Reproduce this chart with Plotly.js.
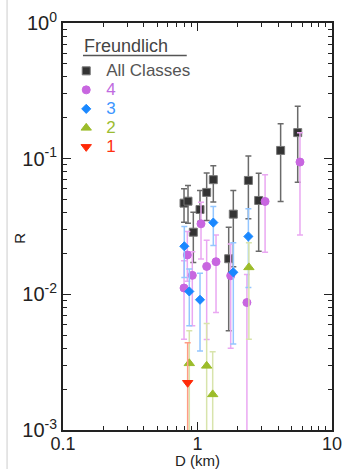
<!DOCTYPE html>
<html>
<head>
<meta charset="utf-8">
<script src="https://cdn.plot.ly/plotly-3.0.1.min.js"></script>
<style>html,body{margin:0;padding:0;background:#fff;}#chart{width:346px;height:469px;}</style>
</head>
<body>
<div id="chart"></div>
<script>
// ---- data ----
var allX  = [0.794, 0.850, 0.931, 1.044, 1.17, 1.311, 1.706, 1.846, 2.39, 2.85, 4.15, 5.56];
var allY  = [0.047, 0.0486, 0.0287, 0.0422, 0.0564, 0.070, 0.0183, 0.039, 0.0691, 0.0492, 0.115, 0.1556];
var allLo = [0.034, 0.0334, 0.0172, 0.0344, 0.035, 0.048, 0.0054, 0.016, 0.036, 0.0208, 0.0484, 0.0671];
var allHi = [0.060, 0.0635, 0.0403, 0.0583, 0.0783, 0.0888, 0.0312, 0.0583, 0.1045, 0.078, 0.181, 0.2436];

var c4X  = [0.794, 0.840, 0.915, 1.062, 1.17, 1.373, 1.765, 2.33, 3.18, 5.78];
var c4Y  = [0.01113, 0.0195, 0.0138, 0.0331, 0.01607, 0.0174, 0.01372, 0.0087, 0.0484, 0.0944];
var c4Lo = [0.00467, 0.0125, 0.00586, 0.0182, 0.00465, 0.00735, 0.0040, 0.0005, 0.0204, 0.0274];
var c4Hi = [0.0177, 0.029, 0.0206, 0.0478, 0.025, 0.0274, 0.0235, 0.014, 0.0762, 0.155];

var c3X  = [0.798, 0.869, 1.044, 1.311, 1.846, 2.39];
var c3Y  = [0.0226, 0.0105, 0.00912, 0.0338, 0.01452, 0.0267];
var c3Lo = [0.0133, 0.00586, 0.00383, 0.0229, 0.0043, 0.01125];
var c3Hi = [0.0316, 0.0154, 0.0143, 0.0444, 0.024, 0.0427];

var c2X  = [0.869, 1.17, 1.297, 2.41];
var c2Y  = [0.0031, 0.00297, 0.00183, 0.0158];
var c2Lo = [0.0005, 0.0005, 0.0005, 0.00467];
var c2Hi = [0.00538, 0.0061, 0.00377, 0.024];

var c1X  = [0.845];
var c1Y  = [0.00223];
var c1Lo = [0.0005];
var c1Hi = [0.0044];

var yTickVals = [1, 0.1, 0.01, 0.001];
var yTickText = ['10<sup>0</sup>', '10<sup>-1</sup>', '10<sup>-2</sup>', '10<sup>-3</sup>'];

// ---- build traces ----
function errs(y, lo, hi, col) {
  return {
    type: 'data', symmetric: false,
    array: y.map(function (v, i) { return hi[i] - v; }),
    arrayminus: y.map(function (v, i) { return v - lo[i]; }),
    color: col, thickness: 1.5, width: 3
  };
}
function tr(name, x, y, lo, hi, sym, size, mcol, lcol, ecol) {
  return {
    type: 'scatter', mode: 'markers', name: name, x: x, y: y,
    marker: {symbol: sym, size: size, color: mcol, line: {color: lcol, width: 1}},
    error_y: errs(y, lo, hi, ecol),
    hoverinfo: 'x+y'
  };
}
function lbl(txt, col) {
  return '<span style="font-size:17px;color:' + col + '">' + txt + '</span>';
}
var data = [
  tr(lbl('All Classes', '#555555'), allX, allY, allLo, allHi, 'square', 8, '#333333', '#777777', '#6a6a6a'),
  tr(lbl('4', '#c06ae0'), c4X, c4Y, c4Lo, c4Hi, 'circle', 8, '#c866e0', '#c866e0', '#eaa8f2'),
  tr(lbl('3', '#3c96ff'), c3X, c3Y, c3Lo, c3Hi, 'diamond', 7, '#1a88ff', '#1a88ff', '#94c6ff'),
  tr(lbl('2', '#9cbc30'), c2X, c2Y, c2Lo, c2Hi, 'triangle-up', 9, '#9cbc2a', '#9cbc2a', '#d8e4ac'),
  tr(lbl('1', '#ff3010'), c1X, c1Y, c1Lo, c1Hi, 'triangle-down', 9, '#ff2a08', '#ff2a08', '#ff9c84')
];

var FONT = 'Liberation Sans, Arial, sans-serif';
var minorTicks = {ticks: 'inside', ticklen: 4, tickwidth: 1, tickcolor: '#222', dtick: 'D1', showgrid: false};
var axCommon = {
  type: 'log', showgrid: false, zeroline: false,
  showline: true, linecolor: '#222', linewidth: 2, mirror: 'allticks',
  ticks: 'inside', ticklen: 8, tickwidth: 1.5, tickcolor: '#222',
  minor: minorTicks,
  tickfont: {family: FONT, size: 20, color: '#222'}
};
var overlayCommon = {
  type: 'log', showgrid: false, zeroline: false, showline: false,
  ticks: 'inside', ticklen: 8, tickwidth: 1.5, tickcolor: '#222',
  minor: minorTicks, showticklabels: false, dtick: 1
};

var layout = {
  width: 346, height: 469,
  margin: {l: 63, r: 14, t: 23, b: 39},
  paper_bgcolor: '#fff', plot_bgcolor: '#fff',
  font: {family: FONT, color: '#222'},
  showlegend: true,
  legend: {
    x: 0.012, y: 0.918, xanchor: 'left', yanchor: 'top',
    bgcolor: 'rgba(0,0,0,0)', borderwidth: 0,
    font: {family: FONT, size: 12, color: '#555'},
    tracegroupgap: 0
  },
  xaxis: Object.assign({}, axCommon, {
    range: [-1, 1], dtick: 1, ticklabelstandoff: -4,
    tickfont: {family: FONT, size: 18, color: '#222'}
  }),
  yaxis: Object.assign({}, axCommon, {
    range: [-3, 0], tickmode: 'array', tickvals: yTickVals, ticktext: yTickText
  }),
  xaxis2: Object.assign({}, overlayCommon, {range: [-1, 1], overlaying: 'x', side: 'top', anchor: 'y'}),
  yaxis2: Object.assign({}, overlayCommon, {range: [-3, 0], overlaying: 'y', side: 'right', anchor: 'x'}),
  annotations: [
    {xref: 'paper', yref: 'paper', x: 0.072, y: 0.943, xanchor: 'left', yanchor: 'middle',
     text: 'Freundlich', showarrow: false, font: {family: FONT, size: 18, color: '#444'}},
    {xref: 'paper', yref: 'paper', x: 0.5, y: -0.074, xanchor: 'center', yanchor: 'middle',
     text: 'D (km)', showarrow: false, font: {family: FONT, size: 15, color: '#222'}},
    {xref: 'paper', yref: 'paper', x: -0.16, y: 0.472, xanchor: 'center', yanchor: 'middle',
     text: 'R', textangle: -90, showarrow: false, font: {family: FONT, size: 15, color: '#222'}}
  ],
  shapes: [
    {type: 'line', xref: 'paper', yref: 'paper', x0: 0.0743, x1: 0.46, y0: 0.92, y1: 0.92,
     line: {color: '#555', width: 1.5}},
    {type: 'line', xref: 'paper', yref: 'paper', x0: -0.208, x1: -0.208, y0: -0.096, y1: 1.0565,
     line: {color: '#cccccc', width: 1}}
  ]
};

Plotly.newPlot('chart', data, layout, {displayModeBar: false, staticPlot: true});
</script>
</body>
</html>
